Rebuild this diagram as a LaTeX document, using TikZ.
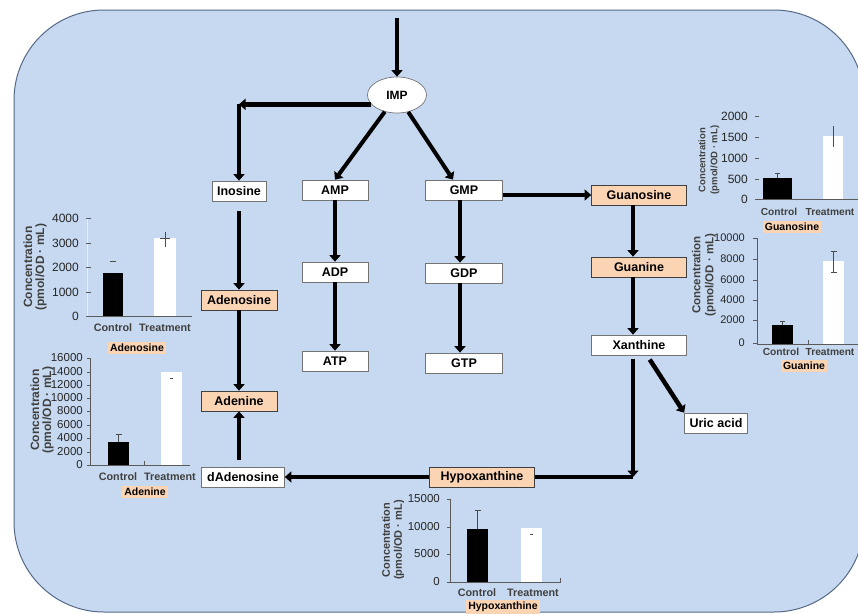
\documentclass[tikz,border=0pt]{standalone}
\usepackage{fontspec}
\setmainfont{Liberation Sans}
\usetikzlibrary{arrows.meta,shapes.geometric}

\definecolor{bgblue}{RGB}{198,217,240}
\definecolor{bgedge}{RGB}{85,105,135}
\definecolor{peach}{RGB}{251,212,180}
\definecolor{axisgray}{RGB}{90,90,90}

\tikzset{
  flow/.style={line width=4.5pt, -{Triangle[width=11pt,length=6.5pt]}},
  plainflow/.style={line width=4.5pt},
  mol/.style={draw=black!55, line width=0.7pt, fill=white, minimum height=20pt,
    inner sep=2pt, font=\bfseries\fontsize{12.5}{14}\selectfont},
  molpeach/.style={mol, fill=peach, draw=black!75},
  ticklab/.style={anchor=east, inner sep=0pt, font=\fontsize{12}{12}\selectfont, text=black!85},
  grplab/.style={inner sep=0pt, font=\bfseries\fontsize{10.8}{11}\selectfont, text=black!75},
  grpsmall/.style={grplab, font=\bfseries\fontsize{10.2}{11}\selectfont},
  charttitle/.style={fill=peach, inner sep=2pt, font=\bfseries\fontsize{10.5}{11}\selectfont},
  ylab/.style={rotate=90, align=center, inner sep=0pt,
    font=\bfseries\fontsize{12}{12}\selectfont, text=black!75},
  axisline/.style={draw=axisgray, line width=0.8pt},
  ctrlbar/.style={fill=black},
  trtbar/.style={fill=white},
  errbar/.style={draw=black!70, line width=0.7pt}
}

\begin{document}
\begin{tikzpicture}[x=1pt,y=-1pt]
  \useasboundingbox (0,0) rectangle (858,613);
  \draw[fill=bgblue, draw=bgedge, line width=1pt, rounded corners=90pt] (14,10) rectangle (864,612);

  % pathway
  \node[mol, ellipse, minimum width=59pt, minimum height=36pt, inner sep=0pt,
    font=\bfseries\fontsize{12}{14}\selectfont] (IMP) at (397,95) {IMP};
  \node[mol, minimum width=54pt] (Inosine) at (239,191) {Inosine};
  \node[mol, minimum width=66pt] (AMP) at (335,190) {AMP};
  \node[mol, minimum width=77pt] (GMP) at (464,190) {GMP};
  \node[mol, minimum width=66pt] (ADP) at (335,272) {ADP};
  \node[mol, minimum width=77pt] (GDP) at (464,273) {GDP};
  \node[mol, minimum width=66pt] (ATP) at (335,361) {ATP};
  \node[mol, minimum width=77pt] (GTP) at (464,363) {GTP};
  \node[molpeach, minimum width=76pt] (Adenosine) at (239,300) {Adenosine};
  \node[molpeach, minimum width=76pt] (Adenine) at (239,401) {Adenine};
  \node[mol, minimum width=83pt] (dAdenosine) at (243,477) {dAdenosine};
  \node[molpeach, minimum width=105pt] (Hypoxanthine) at (482,477) {Hypoxanthine};
  \node[molpeach, minimum width=95pt] (Guanosine) at (639,195) {Guanosine};
  \node[molpeach, minimum width=95pt] (Guanine) at (639,267) {Guanine};
  \node[mol, minimum width=95pt] (Xanthine) at (639,345) {Xanthine};
  \node[mol, minimum width=63pt] (Uricacid) at (716,423) {Uric acid};

  \coordinate (entry) at (397,18);
  \coordinate (cI) at (Inosine.north |- IMP.200);
  \coordinate (cX) at ([xshift=-6pt]Xanthine.south |- Hypoxanthine.east);

  \draw[flow, line width=3.5pt] (entry) -- (IMP.north);
  \draw[flow] (IMP.200) -- (cI);
  \draw[flow] (cI) -- (Inosine.north);
  \draw[flow, line width=4pt] (IMP) -- (AMP.north);
  \draw[flow, line width=4pt] (IMP) -- ([xshift=-11pt]GMP.north);
  \draw[flow] (AMP) -- (ADP);
  \draw[flow] (ADP) -- (ATP);
  \draw[flow] ([xshift=-4pt]GMP.south) -- ([xshift=-4pt]GDP.north);
  \draw[flow] ([xshift=-4pt]GDP.south) -- ([xshift=-4pt]GTP.north);
  \draw[flow] (Guanosine.west -| GMP.east) -- (Guanosine.west);
  \draw[flow, shorten <=10pt] (Inosine) -- (Adenosine);
  \draw[flow] (Adenosine) -- (Adenine);
  \draw[flow, shorten <=7pt] ([xshift=-4pt]dAdenosine.north) -- (Adenine.south);
  \draw[flow] ([xshift=-6pt]Guanosine.south) -- ([xshift=-6pt]Guanine.north);
  \draw[flow] ([xshift=-6pt]Guanine.south) -- ([xshift=-6pt]Xanthine.north);
  \draw[flow, shorten <=5pt] ([xshift=8pt]Xanthine.south) -- (Uricacid.north west);
  \draw[flow, shorten <=4pt] ([xshift=-6pt]Xanthine.south) -- (cX);
  \draw[plainflow] (cX) -- (Hypoxanthine.east);
  \draw[flow] (Hypoxanthine.west) -- (dAdenosine.east);

  % chart: adenosine
  \draw[draw=white!85!gray, line width=0.8pt] (87,218) -- (87,316);
  \draw[axisline] (87,316) -- (192,316);
  \foreach \y/\v in {218/4000,243/3000,267/2000,292/1000,316/0}{
    \draw[axisline] (86,\y) -- (91,\y);
    \node[ticklab] (adn\v) at (79,\y) {\v};
  }
  \fill[ctrlbar] (103,273) rectangle (123,316);
  \fill[trtbar] (154,238) rectangle (176,316);
  \draw[errbar] (110,261) -- (116,261);
  \draw[errbar] (165,232) -- (165,247) (160,238) -- (170,238);
  \node[grplab] (adnC) at (113,328) {Control};
  \node[grplab] (adnT) at (165,328) {Treatment};
  \node[charttitle] (adnTitle) at (137,348) {Adenosine};
  \node[ylab] (adnY) at (35,267) {Concentration\\(pmol/OD · mL)};

  % chart: adenine
  \draw[axisline] (90,358) -- (90,465) -- (190,465);
  \draw[axisline] (144,465) -- (144,461);
  \foreach \y/\v in {358/16000,372/14000,385/12000,398/10000,411/8000,425/6000,438/4000,452/2000,465/0}{
    \draw[axisline] (87,\y) -- (90,\y);
    \node[ticklab, font=\fontsize{11.5}{12}\selectfont] (ade\v) at (83,\y) {\v};
  }
  \fill[ctrlbar] (108,442) rectangle (129,465);
  \fill[trtbar] (161,372) rectangle (182,465);
  \draw[errbar] (118.5,442) -- (118.5,434) (115.5,434) -- (121.5,434);
  \draw[errbar] (170,378) -- (173,378);
  \node[grplab] (adeC) at (118,477) {Control};
  \node[grplab] (adeT) at (170,477) {Treatment};
  \node[charttitle] (adeTitle) at (145,492) {Adenine};
  \node[ylab] (adeY) at (42,410) {Concentration\\(pmol/OD · mL)};

  % chart: guanosine
  \draw[axisline] (757,199) -- (870,199);
  \foreach \y/\v in {116/2000,137/1500,158/1000,179/500,199/0}{
    \draw[axisline] (755,\y) -- (759,\y);
    \node[ticklab] (gua\v) at (748,\y) {\v};
  }
  \fill[ctrlbar] (763,178) rectangle (792,199);
  \fill[trtbar] (823,136) rectangle (843,199);
  \draw[errbar] (777.5,178) -- (777.5,173) (775,173) -- (780,173);
  \draw[errbar] (833,126) -- (833,147);
  \node[grpsmall] (guaC) at (779,212) {Control};
  \node[grpsmall] (guaT) at (830,212) {Treatment};
  \node[charttitle] (guaTitle) at (792,227) {Guanosine};
  \node[ylab, font=\bfseries\fontsize{9.5}{12}\selectfont] (guaY) at (709,160) {Concentration\\(pmol/OD · mL)};

  % chart: guanine
  \draw[axisline] (757,238) -- (757,344) -- (870,344);
  \draw[axisline] (808,344) -- (808,340);
  \foreach \y/\v in {238/10000,259/8000,280/6000,300/4000,320/2000,343/0}{
    \draw[axisline] (753,\y) -- (757,\y);
    \node[ticklab, font=\fontsize{11}{12}\selectfont] (gun\v) at (745,\y) {\v};
  }
  \fill[ctrlbar] (772,325) rectangle (793,344);
  \fill[trtbar] (823,261) rectangle (844,344);
  \draw[errbar] (782.5,325) -- (782.5,321) (780,321) -- (785,321);
  \draw[errbar] (833.5,251) -- (833.5,272) (830.5,251) -- (836.5,251) (830.5,272) -- (836.5,272);
  \node[grpsmall] (gunC) at (781,352) {Control};
  \node[grpsmall] (gunT) at (830,352) {Treatment};
  \node[charttitle] (gunTitle) at (804,366) {Guanine};
  \node[ylab, font=\bfseries\fontsize{11.5}{13}\selectfont] (gunY) at (704,275) {Concentration\\(pmol/OD · mL)};

  % chart: hypoxanthine
  \draw[axisline] (450,499) -- (450,582) -- (560,582) -- (560,578);
  \foreach \y/\v in {499/15000,527/10000,554/5000,582/0}{
    \draw[axisline] (447,\y) -- (451,\y);
    \node[ticklab, font=\fontsize{11.5}{12}\selectfont] (hyp\v) at (440,\y) {\v};
  }
  \fill[ctrlbar] (467,529) rectangle (488,582);
  \fill[trtbar] (521,528) rectangle (542,582);
  \draw[errbar] (477.5,529) -- (477.5,510) (474.5,510) -- (480.5,510);
  \draw[errbar] (530,534) -- (533,534);
  \node[grplab] (hypC) at (477,593) {Control};
  \node[grplab] (hypT) at (533,593) {Treatment};
  \node[charttitle] (hypTitle) at (503,607) {Hypoxanthine};
  \node[ylab, font=\bfseries\fontsize{11}{12}\selectfont] (hypY) at (393,540) {Concentration\\(pmol/OD · mL)};
\end{tikzpicture}
\end{document}
